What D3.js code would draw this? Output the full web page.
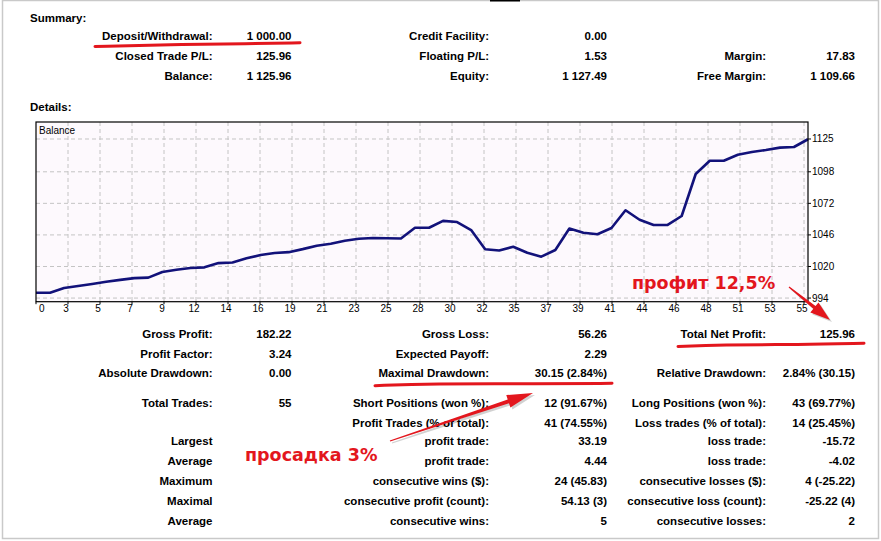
<!DOCTYPE html>
<html><head><meta charset="utf-8">
<script src="https://cdn.jsdelivr.net/npm/d3@7"></script>
<style>
html,body{margin:0;padding:0;background:#fff;}
svg{display:block;}
.lbl{font-family:"Liberation Sans",Arial,sans-serif;font-weight:bold;font-size:11.5px;fill:#000;}
.ax{font-family:"Liberation Sans",Arial,sans-serif;font-size:10px;fill:#000;}
.note{font-family:"DejaVu Sans",sans-serif;font-weight:bold;font-size:17.5px;fill:#e3161d;}
</style></head>
<body>
<svg id="c" width="881" height="541"></svg>
<script>
// ---- data ----
const balance = [998.4, 998.4, 1002.3, 1004.0, 1005.6, 1007.4, 1009.0, 1010.4, 1010.8, 1015.5,
  1017.3, 1018.8, 1019.3, 1022.8, 1023.3, 1026.7, 1029.5, 1031.1, 1031.8, 1034.3,
  1037.1, 1038.7, 1041.2, 1042.9, 1043.5, 1043.2, 1043.0, 1051.9, 1051.9, 1057.6,
  1056.6, 1050.0, 1034.2, 1033.2, 1036.3, 1031.3, 1028.1, 1033.6, 1051.3, 1047.8,
  1046.6, 1051.7, 1066.3, 1058.5, 1054.2, 1054.2, 1061.6, 1096.2, 1107.1, 1107.1,
  1112.0, 1114.3, 1115.9, 1117.9, 1118.4, 1124.8];
const xTickLabels = ['0','3','5','7','9','12','14','16','19','21','23','25','28','30','32','35','37','39','41','44','46','48','51','53','55'];
const yTicks = [994, 1020, 1046, 1072, 1098, 1125];

const summaryLabels = [
  ['Deposit/Withdrawal:', 'Closed Trade P/L:', 'Balance:'],
  ['Credit Facility:', 'Floating P/L:', 'Equity:'],
  ['', 'Margin:', 'Free Margin:']];
const summaryValues = [
  ['1 000.00', '125.96', '1 125.96'],
  ['0.00', '1.53', '1 127.49'],
  ['', '17.83', '1 109.66']];

const detailLabels1 = ['Gross Profit:', 'Profit Factor:', 'Absolute Drawdown:', 'Total Trades:', '', 'Largest', 'Average', 'Maximum', 'Maximal', 'Average'];
const detailValues1 = ['182.22', '3.24', '0.00', '55', '', '', '', '', '', ''];
const detailLabels2 = ['Gross Loss:', 'Expected Payoff:', 'Maximal Drawdown:', 'Short Positions (won %):', 'Profit Trades (% of total):', 'profit trade:', 'profit trade:', 'consecutive wins ($):', 'consecutive profit (count):', 'consecutive wins:'];
const detailValues2 = ['56.26', '2.29', '30.15 (2.84%)', '12 (91.67%)', '41 (74.55%)', '33.19', '4.44', '24 (45.83)', '54.13 (3)', '5'];
const detailLabels3 = ['Total Net Profit:', '', 'Relative Drawdown:', 'Long Positions (won %):', 'Loss trades (% of total):', 'loss trade:', 'loss trade:', 'consecutive losses ($):', 'consecutive loss (count):', 'consecutive losses:'];
const detailValues3 = ['125.96', '', '2.84% (30.15)', '43 (69.77%)', '14 (25.45%)', '-15.72', '-4.02', '4 (-25.22)', '-25.22 (4)', '2'];

const notes = ['профит 12,5%', 'просадка 3%'];

// ---- layout ----
const svg = d3.select('#c');
const plot = {l: 36, r: 808, t: 122, b: 301.7, gridR: 804};

// page frame
svg.append('rect').attr('x', 2.5).attr('y', 0.5).attr('width', 876).attr('height', 538)
  .attr('fill', 'none').attr('stroke', '#c9c9c9').attr('stroke-width', 1.5);
svg.append('rect').attr('x', 490).attr('y', 0).attr('width', 30).attr('height', 1.5).attr('fill', '#000');

function txt(x, y, s, anchor, cls) {
  svg.append('text').attr('class', cls || 'lbl').attr('x', x).attr('y', y)
    .attr('text-anchor', anchor || 'end').text(s);
}

txt(30, 21.5, 'Summary:', 'start');
txt(30, 111, 'Details:', 'start');

const sumRowsY = [40, 60, 80];
const sumLabelX = [212.5, 489, 766];
const sumValueX = [291.5, 607, 855];
summaryLabels.forEach((col, c) => col.forEach((s, r) => {
  if (s) txt(sumLabelX[c], sumRowsY[r], s);
  if (summaryValues[c][r]) txt(sumValueX[c], sumRowsY[r], summaryValues[c][r]);
}));

const detRowsY = [338, 357.5, 377, 406.5, 426.5, 445, 465, 485, 505, 525];
[[detailLabels1, detailValues1], [detailLabels2, detailValues2], [detailLabels3, detailValues3]].forEach(([labs, vals], c) => {
  labs.forEach((s, r) => {
    if (s) txt(sumLabelX[c], detRowsY[r], s);
    if (vals[r]) txt(sumValueX[c], detRowsY[r], vals[r]);
  });
});

// ---- chart ----
const x = d3.scaleLinear().domain([0, balance.length - 1]).range([plot.l, plot.r]);
const y = d3.scaleLinear().domain([991, 1139]).range([plot.b, plot.t]);
const xt = d3.scalePoint().domain(xTickLabels).range([plot.l, plot.gridR]);

svg.append('rect').attr('x', plot.l).attr('y', plot.t).attr('width', plot.r - plot.l).attr('height', plot.b - plot.t)
  .attr('fill', '#fdf9fd');

const g = svg.append('g');
g.selectAll('line.vg').data(xTickLabels.slice(1)).join('line')
  .attr('x1', d => xt(d)).attr('x2', d => xt(d)).attr('y1', plot.t).attr('y2', plot.b)
  .attr('stroke', '#c4c4c4').attr('stroke-dasharray', '4,3').attr('stroke-width', 1);
g.selectAll('line.hg').data(yTicks).join('line')
  .attr('x1', plot.l).attr('x2', plot.r).attr('y1', d => y(d)).attr('y2', d => y(d))
  .attr('stroke', '#c4c4c4').attr('stroke-dasharray', '4,3').attr('stroke-width', 1);

svg.append('path').datum(balance)
  .attr('d', d3.line().x((d, i) => x(i)).y(d => y(d)))
  .attr('fill', 'none').attr('stroke', '#12127a').attr('stroke-width', 2.6).attr('stroke-linejoin', 'round');

svg.append('rect').attr('x', plot.l).attr('y', plot.t).attr('width', plot.r - plot.l).attr('height', plot.b - plot.t)
  .attr('fill', 'none').attr('stroke', '#000').attr('stroke-width', 1.2);

txt(plot.l + 3, plot.t + 12, 'Balance', 'start', 'ax');

// x axis labels + ticks
xTickLabels.forEach((d, i) => {
  const px = i === 0 ? xt(d) + 3 : xt(d) - 2;
  svg.append('text').attr('class', 'ax').attr('x', px).attr('y', plot.b + 10.5)
    .attr('text-anchor', i === 0 ? 'start' : 'middle').text(d);
  svg.append('line').attr('x1', xt(d)).attr('x2', xt(d)).attr('y1', plot.b).attr('y2', plot.b + 2.5)
    .attr('stroke', '#000');
});
// y axis labels + ticks
yTicks.forEach(d => {
  svg.append('text').attr('class', 'ax').attr('x', plot.r + 4).attr('y', y(d) + 3.5).attr('text-anchor', 'start').text(d);
  svg.append('line').attr('x1', plot.r).attr('x2', plot.r + 3).attr('y1', y(d)).attr('y2', y(d)).attr('stroke', '#000');
});

// ---- annotations ----
const red = '#e3161d';
const curve = d3.line().curve(d3.curveBasis);
const underlines = [
  [[95, 46.5], [170, 44.5], [250, 43.8], [300, 42.8]],
  [[678, 346.5], [720, 344.5], [800, 344.8], [864, 343.3]],
  [[375, 385.7], [430, 383.6], [540, 383.8], [612, 383.3]]];
underlines.forEach(p => svg.append('path').attr('d', curve(p)).attr('fill', 'none')
  .attr('stroke', red).attr('stroke-width', 3).attr('stroke-linecap', 'round'));

svg.append('text').attr('class', 'note').attr('x', 632).attr('y', 288.5).text(notes[0]);
svg.append('text').attr('class', 'note').attr('x', 245).attr('y', 460.5).text(notes[1]);

function arrow(x0, y0, x1, y1, headLen, headHalf, w0, w1) {
  const dx = x1 - x0, dy = y1 - y0, L = Math.hypot(dx, dy);
  const ux = dx / L, uy = dy / L, nx = -uy, ny = ux;
  const bx = x1 - ux * headLen, by = y1 - uy * headLen;
  const pts = [
    [x0 + nx * w0 / 2, y0 + ny * w0 / 2],
    [bx + nx * w1 / 2, by + ny * w1 / 2],
    [bx + nx * headHalf, by + ny * headHalf],
    [x1, y1],
    [bx - nx * headHalf, by - ny * headHalf],
    [bx - nx * w1 / 2, by - ny * w1 / 2],
    [x0 - nx * w0 / 2, y0 - ny * w0 / 2]];
  svg.append('path').attr('d', 'M' + pts.map(p => p.join(',')).join('L') + 'Z')
    .attr('fill', 'rgba(0,0,0,0.18)').attr('transform', 'translate(2,2)');
  svg.append('path').attr('d', 'M' + pts.map(p => p.join(',')).join('L') + 'Z').attr('fill', red);
}
arrow(789, 287, 830, 320, 20, 6.5, 1.2, 3.5);
arrow(390, 441, 533, 393, 26, 6.5, 1.2, 4);
</script>
</body></html>
